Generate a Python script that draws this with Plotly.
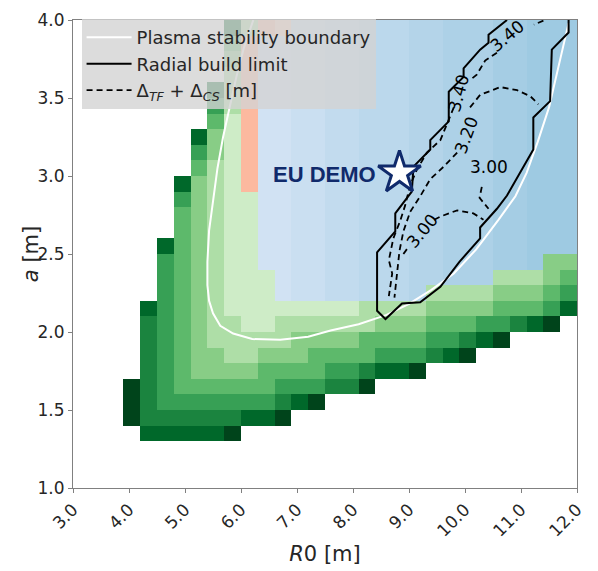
import plotly.graph_objects as go

# ---------------- grid (cell edges) ----------------
r0_edges = [3.0, 3.3, 3.6, 3.9, 4.2, 4.5, 4.8, 5.1, 5.4, 5.7, 6.0, 6.3, 6.6, 6.9, 7.2, 7.5,
            7.8, 8.1, 8.4, 8.7, 9.0, 9.3, 9.6, 9.9, 10.2, 10.5, 10.8, 11.1, 11.4, 11.7, 12.0]
a_edges = [1.0, 1.1, 1.2, 1.3, 1.4, 1.5, 1.6, 1.7, 1.8, 1.9, 2.0, 2.1, 2.2, 2.3, 2.4, 2.5,
           2.6, 2.7, 2.8, 2.9, 3.0, 3.1, 3.2, 3.3, 3.4, 3.5, 3.6, 3.7, 3.8, 3.9, 4.0]

# cell codes, top row (a = 3.9-4.0) first, one char per R0 cell (30 cells, 3.0 -> 12.0)
# '1'-'9' green level, 'a'-'h' blue level, 'r'/'s' red level, '.' empty
cell_rows = [
    "........." "83rs" "bbccdddeefffgghhh",                      # 3.9-4.0
    "........." "5r" "aabbccdddeefffgghhh",                      # 3.8-3.9
    "........." "4r" "aabbccdddeefffgghhh",                      # 3.7-3.8
    "........." "3r" "aabbccdddeefffgghhh",                      # 3.6-3.7
    "........" "83r" "aabbccdddeefffgghhh",                      # 3.5-3.6
    "........" "63r" "aabbccdddeefffgghhh",                      # 3.4-3.5
    "........" "52r" "aabbccdddeefffgghhh",                      # 3.3-3.4
    "......." "842r" "aabbccdddeefffgghhh",                      # 3.2-3.3
    "......." "642r" "aabbccdddeefffgghhh",                      # 3.1-3.2
    "......." "532r" "aabbccdddeefffgghhh",                      # 3.0-3.1
    "......" "8432r" "aabbccdddeefffgghhh",                      # 2.9-3.0
    "......" "64322" "aabbccdddeefffgghhh",                      # 2.8-2.9
    "......" "54322" "aabbccdddeefffgghhh",                      # 2.7-2.8
    "......" "54322" "aabbccdddeefffgghhh",                      # 2.6-2.7
    "....." "854322" "aabbccdddeefffgghhh",                      # 2.5-2.6
    "....." "654322" "aabbccdddeefffggh" "44",                   # 2.4-2.5
    "....." "6543222" "abbccdddeefff" "33345",                   # 2.3-2.4
    "....." "6543222" "abbccddde" "333344456",                   # 2.2-2.3
    "...." "86543" "22222222" "3333" "4444" "555" "6" "8",       # 2.1-2.2
    "...." "76543" "3" "22" "333333" "444" "555" "66" "7" "8" "9" ".",   # 2.0-2.1
    "...." "76543" "3333" "4444" "5555" "66" "7" "8" "9" "....",         # 1.9-2.0
    "...." "76544" "33" "4445" "555" "666" "7" "8" "9" "......",         # 1.8-1.9
    "...." "76544" "44" "5555" "66" "7" "88" "9" ".........",            # 1.7-1.8
    "..." "9" "765" "55555" "666" "77" "9" "............",               # 1.6-1.7
    "..." "9" "7" "6666666" "7" "8" "9" "...............",               # 1.5-1.6
    "..." "9" "777777" "88" "9" ".................",                     # 1.4-1.5
    "...." "88888" "9" "....................",                          # 1.3-1.4
    "..............................",                                  # 1.2-1.3
    "..............................",                                  # 1.1-1.2
    "..............................",                                  # 1.0-1.1
]

green_codes = "123456789"
blue_codes = "abcdefgh"
red_codes = "sr"

# ---------------- lines (R0, a) ----------------
stab_r0 = [6.22, 6.05, 5.92, 5.80, 5.68, 5.58, 5.50, 5.43, 5.40, 5.40, 5.43, 5.50, 5.63, 5.86,
           6.2, 6.7, 7.2, 7.6, 8.1, 8.6, 9.0, 9.4, 9.8, 10.2, 10.6, 10.9, 11.1, 11.3, 11.5,
           11.7, 11.85]
stab_a = [4.0, 3.82, 3.64, 3.45, 3.25, 3.05, 2.85, 2.65, 2.45, 2.3, 2.2, 2.12, 2.04, 1.99,
          1.955, 1.95, 1.97, 2.01, 2.05, 2.11, 2.18, 2.27, 2.375, 2.53, 2.72, 2.87, 3.02, 3.22,
          3.44, 3.75, 3.98]

build_r0 = [10.75, 10.42, 10.42, 10.27, 9.975, 9.975, 9.71, 9.71, 9.38, 9.38, 9.08, 9.05,
            8.755, 8.755, 8.43, 8.43, 8.58, 8.875, 9.2, 9.56, 9.9, 10.27, 10.27, 10.57, 10.75,
            10.95, 11.22, 11.22, 11.52, 11.55, 11.85, 11.85]
build_a = [4.0, 3.906, 3.854, 3.81, 3.69, 3.635, 3.54, 3.35, 3.23, 3.17, 3.06, 2.90, 2.76,
           2.645, 2.51, 2.136, 2.083, 2.183, 2.19, 2.29, 2.45, 2.60, 2.67, 2.79, 2.875, 3.0,
           3.17, 3.375, 3.48, 3.81, 3.92, 4.0]

# Delta_TF + Delta_CS contour pieces (None = break)
dtf_r0 = [11.40, 11.23, None, 10.57, 10.36, 10.21, 10.09, None, 9.80, 9.68, 9.56, 9.32, 9.14,
          9.02, 8.93, 8.84, 8.72, 8.64, 8.70, 8.64, None,
          10.15, None, 9.86, 9.62, 9.38, 9.20, 9.02, 8.90, 8.83, 8.78, 8.74, None,
          10.09, 10.27, 10.63, 10.93, 11.17, 11.31, None,
          8.90, 9.0, None, 9.45, 9.56, 9.86, 10.15, 10.33, None,
          10.75, None, 10.30, 10.26, 10.42]
dtf_a = [3.996, 3.97, None, 3.79, 3.74, 3.65, 3.615, None, 3.44, 3.33, 3.23, 3.15, 3.04,
         2.94, 2.81, 2.71, 2.60, 2.46, 2.375, 2.23, None,
         3.375, None, 3.15, 3.06, 2.98, 2.87, 2.77, 2.645, 2.52, 2.35, 2.22, None,
         3.44, 3.52, 3.57, 3.55, 3.51, 3.46, None,
         2.50, 2.55, None, 2.72, 2.74, 2.78, 2.76, 2.72, None,
         2.98, None, 2.93, 2.86, 2.79]

clabel_text = ["3.40", "3.40", "3.20", "3.00", "3.00"]
clabel_r0 = [10.75, 9.89, 10.03, 10.42, 9.23]
clabel_a = [3.90, 3.53, 3.26, 3.06, 2.65]
clabel_angle = [-40, -75, -70, 0, -50]

demo_r0 = [8.83]
demo_a = [3.02]

# ---------------- build z arrays ----------------
zg, zb, zr = [], [], []
for row in reversed(cell_rows):
    assert len(row) == 30, row
    gr, br, rr = [], [], []
    for ch in row:
        gr.append(green_codes.index(ch) + 1 if ch in green_codes else None)
        br.append(blue_codes.index(ch) if ch in blue_codes else None)
        rr.append(red_codes.index(ch) if ch in red_codes else None)
    zg.append(gr); zb.append(br); zr.append(rr)

greens = [[0, '#f7fcf5'], [0.125, '#e5f5e0'], [0.25, '#c7e9c0'], [0.375, '#a1d99b'],
          [0.5, '#74c476'], [0.625, '#41ab5d'], [0.75, '#238b45'], [0.875, '#006d2c'],
          [1, '#00441b']]
blues = [[0, '#d1e2f3'], [1, '#9ecae2']]
reds = [[0, '#fdd2be'], [1, '#fcb99f']]

fig = go.Figure()
fig.add_trace(go.Heatmap(x=r0_edges, y=a_edges, z=zg, colorscale=greens, zmin=0, zmax=9,
                         showscale=False, hoverinfo='skip'))
fig.add_trace(go.Heatmap(x=r0_edges, y=a_edges, z=zb, colorscale=blues, zmin=0, zmax=7,
                         showscale=False, hoverinfo='skip'))
fig.add_trace(go.Heatmap(x=r0_edges, y=a_edges, z=zr, colorscale=reds, zmin=0, zmax=1,
                         showscale=False, hoverinfo='skip'))

fig.add_trace(go.Scatter(x=stab_r0, y=stab_a, mode='lines', line=dict(color='white', width=2),
                         name='Plasma stability boundary'))
fig.add_trace(go.Scatter(x=build_r0, y=build_a, mode='lines', line=dict(color='black', width=2),
                         name='Radial build limit'))
fig.add_trace(go.Scatter(x=dtf_r0, y=dtf_a, mode='lines', connectgaps=False,
                         line=dict(color='black', width=1.8, dash='6px,4px'),
                         name='Δ<sub><i>TF</i></sub> + Δ<sub><i>CS</i></sub> [m]'))
fig.add_trace(go.Scatter(x=demo_r0, y=demo_a, mode='markers', showlegend=False,
                         marker=dict(symbol='star', size=32, color='white',
                                     line=dict(color='#102a6b', width=3))))

for t, x, y, ang in zip(clabel_text, clabel_r0, clabel_a, clabel_angle):
    fig.add_annotation(x=x, y=y, text=t, showarrow=False, textangle=ang,
                       font=dict(family='DejaVu Sans', size=17, color='black'))

fig.add_annotation(x=8.44, y=3.01, text='<b>EU DEMO</b>', showarrow=False, xanchor='right',
                   font=dict(family='Liberation Sans', size=22, color='#102a6b'))

axis_common = dict(showline=True, linecolor='#808080', linewidth=1, mirror=True,
                   ticks='outside', ticklen=4, tickcolor='#808080', showgrid=False,
                   zeroline=False, tickfont=dict(family='DejaVu Sans', size=17, color='#262626'))
fig.update_xaxes(range=[3, 12], tickvals=[3, 4, 5, 6, 7, 8, 9, 10, 11, 12],
                 ticktext=['3.0', '4.0', '5.0', '6.0', '7.0', '8.0', '9.0', '10.0', '11.0', '12.0'],
                 tickangle=-45, title=dict(text='<i>R</i>0 [m]', standoff=6,
                 font=dict(family='DejaVu Sans', size=21, color='#262626')), **axis_common)
fig.update_yaxes(range=[1, 4], tickvals=[1, 1.5, 2, 2.5, 3, 3.5, 4],
                 ticktext=['1.0', '1.5', '2.0', '2.5', '3.0', '3.5', '4.0'], **axis_common)

fig.add_annotation(xref='paper', yref='paper', x=-0.083, y=0.5, text='<i>a</i> [m]',
                   showarrow=False, textangle=-90, xanchor='center', yanchor='middle',
                   font=dict(family='DejaVu Sans', size=21, color='#262626'))

fig.update_layout(width=598, height=571, margin=dict(l=73, r=21, t=10, b=80),
                  plot_bgcolor='white', paper_bgcolor='white',
                  legend=dict(x=0.017, y=1.002, xanchor='left', yanchor='top',
                              bgcolor='rgba(211,211,211,0.8)', borderwidth=0, itemwidth=45,
                              font=dict(family='DejaVu Sans', size=18, color='#262626')),
                  font=dict(family='DejaVu Sans'))

fig.write_html('out.html')
